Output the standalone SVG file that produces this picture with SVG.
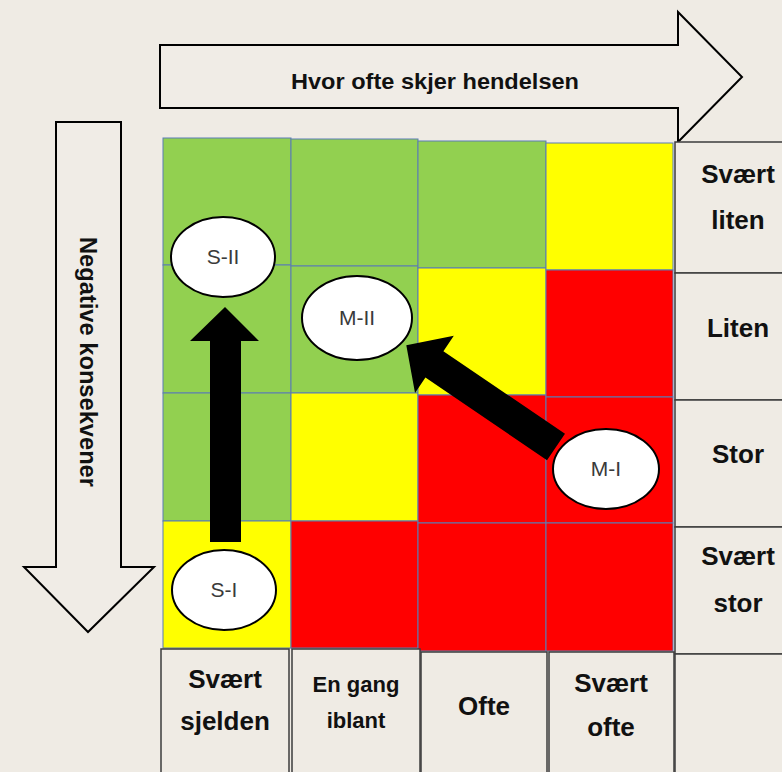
<svg xmlns="http://www.w3.org/2000/svg" width="782" height="772" viewBox="0 0 782 772">
<style>
.bg{fill:#EFEBE4}
.cell{stroke:#5B7DB3;stroke-width:1}
.g{fill:#92D050}.y{fill:#FFFF00}.r{fill:#FF0000}
.box{fill:#EFEBE4;stroke:#3C3C3C;stroke-width:1.5}
.big{fill:none;stroke:#000;stroke-width:2;stroke-linejoin:miter}
.lbl{font-family:"Liberation Sans",Arial,sans-serif;font-weight:bold;font-size:26px;fill:#111;text-anchor:middle}
.sm{font-size:22px}
.axis{font-family:"Liberation Sans",Arial,sans-serif;font-weight:bold;font-size:22px;fill:#111;text-anchor:middle}
.node ellipse{fill:#fff;stroke:#000;stroke-width:2}
.node text{font-family:"Liberation Sans",Arial,sans-serif;font-size:21px;fill:#3A3A3A;text-anchor:middle}
.arr{fill:#000}
</style>
<rect class="bg" x="0" y="0" width="782" height="772"/>

<g id="axis-top">
<polygon class="big" style="fill:#F0ECE6" points="160,45 678,45 678,12 742,77 678,142 678,108 160,108"/>
<text class="axis" x="435" y="89" textLength="288" lengthAdjust="spacingAndGlyphs">Hvor ofte skjer hendelsen</text>
</g>
<g id="axis-left">
<polygon class="big" style="fill:#F0ECE6" points="56,122 121,122 121,567 154,567 88,632 24,567 56,567"/>
<text class="axis" style="font-size:23px" transform="translate(80,362) rotate(90)" x="0" y="0" textLength="250" lengthAdjust="spacingAndGlyphs">Negative konsekvener</text>
</g>

<g id="grid">
<rect class="cell g" x="163" y="138" width="128" height="127"/>
<rect class="cell g" x="163" y="265" width="128" height="128"/>
<rect class="cell g" x="163" y="393" width="128" height="128"/>
<rect class="cell y" x="163" y="521" width="128" height="127"/>

<rect class="cell g" x="291" y="139" width="127" height="127"/>
<rect class="cell g" x="291" y="266" width="127" height="127"/>
<rect class="cell y" x="291" y="393" width="127" height="128"/>
<rect class="cell r" x="291" y="521" width="127" height="127"/>

<rect class="cell g" x="418" y="141" width="128" height="127"/>
<rect class="cell y" x="418" y="268" width="128" height="127"/>
<rect class="cell r" x="418" y="395" width="128" height="128"/>
<rect class="cell r" x="418" y="523" width="128" height="128"/>

<rect class="cell y" x="546" y="143" width="127" height="127"/>
<rect class="cell r" x="546" y="270" width="127" height="127"/>
<rect class="cell r" x="546" y="397" width="127" height="126"/>
<rect class="cell r" x="546" y="523" width="127" height="128"/>
</g>

<g id="row-labels">
<rect class="box" x="675" y="142" width="120" height="131"/>
<text class="lbl" x="738" y="183">Svært</text>
<text class="lbl" x="738" y="229">liten</text>
<rect class="box" x="675" y="273" width="120" height="127"/>
<text class="lbl" x="738" y="337">Liten</text>
<rect class="box" x="675" y="400" width="120" height="127"/>
<text class="lbl" x="738" y="463">Stor</text>
<rect class="box" x="675" y="527" width="120" height="127"/>
<text class="lbl" x="738" y="565">Svært</text>
<text class="lbl" x="738" y="612">stor</text>
<rect class="box" x="675" y="654" width="120" height="130"/>
</g>

<g id="col-labels">
<rect class="box" x="161" y="649" width="128" height="130"/>
<text class="lbl" x="225" y="688">Svært</text>
<text class="lbl" x="225" y="730">sjelden</text>
<rect class="box" x="292" y="649" width="128" height="130"/>
<text class="lbl sm" x="356" y="692">En gang</text>
<text class="lbl sm" x="356" y="728">iblant</text>
<rect class="box" x="421" y="652" width="126" height="130"/>
<text class="lbl" x="484" y="715">Ofte</text>
<rect class="box" x="549" y="652" width="125" height="130"/>
<text class="lbl" x="611" y="692">Svært</text>
<text class="lbl" x="611" y="736">ofte</text>
</g>

<g id="connectors">
<polygon class="arr" points="210,542 210,341 190,341 225,307 259,341 241,341 241,542"/>
<polygon class="arr" transform="translate(556,447) rotate(214.2)" points="0,-16 147,-16 147,-34.5 181,0 147,34.5 147,16 0,16"/>
</g>

<g id="node-S-II" class="node">
<ellipse cx="223" cy="257" rx="52" ry="40"/>
<text x="223" y="264">S-II</text>
</g>
<g id="node-M-II" class="node">
<ellipse cx="357" cy="318" rx="55" ry="42"/>
<text x="357" y="325">M-II</text>
</g>
<g id="node-M-I" class="node">
<ellipse cx="606" cy="469" rx="53" ry="40"/>
<text x="606" y="476">M-I</text>
</g>
<g id="node-S-I" class="node">
<ellipse cx="224" cy="590" rx="52" ry="40"/>
<text x="224" y="597">S-I</text>
</g>
</svg>
